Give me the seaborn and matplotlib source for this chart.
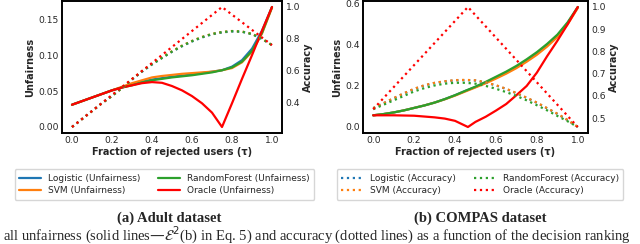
import numpy as np
import pandas as pd
import matplotlib
matplotlib.use("Agg")
import matplotlib.pyplot as plt
from matplotlib.lines import Line2D
import seaborn as sns

# ── data ──────────────────────────────────────────────────
tau = [0.0, 0.05, 0.1, 0.15, 0.2, 0.25, 0.3, 0.35, 0.4, 0.45, 0.5,
       0.55, 0.6, 0.65, 0.7, 0.75, 0.8, 0.85, 0.9, 0.95, 1.0]

models = ["Logistic", "SVM", "RandomForest", "Oracle"]
model_colors = ["#1f77b4", "#ff7f0e", "#2ca02c", "#ff0000"]

# Adult dataset
adult_unf_logistic = [.031, .036, .041, .046, .051, .055, .059, .063, .066, .068, .070,
                      .0715, .073, .075, .077, .079, .084, .093, .109, .134, .167]
adult_unf_svm = [.031, .036, .041, .046, .051, .056, .061, .065, .069, .071, .0725,
                 .074, .075, .076, .077, .079, .082, .090, .105, .130, .166]
adult_unf_rf = [.031, .036, .041, .046, .051, .055, .058, .062, .065, .067, .069,
                .0705, .072, .074, .076, .079, .083, .091, .106, .131, .167]
adult_unf_oracle = [.031, .036, .041, .046, .051, .055, .058, .061, .0625, .0615, .057,
                    .051, .043, .033, .020, .0, .033, .067, .100, .134, .167]

adult_acc_logistic = [.245, .295, .345, .395, .44, .49, .543, .593, .638, .679, .718,
                      .753, .783, .808, .828, .840, .846, .844, .829, .799, .76]
adult_acc_svm = [.245, .295, .345, .395, .44, .49, .546, .597, .642, .682, .722,
                 .757, .787, .812, .831, .843, .849, .846, .831, .801, .76]
adult_acc_rf = [.245, .295, .345, .395, .44, .49, .545, .595, .64, .68, .72,
                .755, .785, .81, .83, .842, .848, .845, .83, .80, .76]
adult_acc_oracle_tau = [0.0, 0.75, 1.0]
adult_acc_oracle = [0.245, 1.0, 0.76]

# COMPAS dataset
compas_unf_logistic = [.057, .063, .071, .081, .093, .105, .119, .136, .155, .176, .195,
                       .217, .241, .265, .293, .324, .359, .399, .445, .506, .583]
compas_unf_svm = [.057, .063, .071, .081, .093, .105, .119, .135, .153, .173, .193,
                  .213, .236, .260, .287, .318, .352, .392, .438, .500, .580]
compas_unf_rf = [.057, .063, .071, .081, .093, .105, .119, .136, .155, .176, .197,
                 .220, .245, .270, .298, .330, .365, .405, .450, .510, .585]
compas_unf_oracle_tau = [0.0, 0.1, 0.2, 0.3, 0.35, 0.4, 0.463, 0.5, 0.55, 0.6,
                         0.65, 0.7, 0.75, 0.8, 0.85, 0.9, 0.95, 1.0]
compas_unf_oracle = [.057, .057, .055, .047, .041, .030, .0, .025, .05, .08,
                     .112, .155, .20, .265, .345, .42, .50, .585]

compas_acc_logistic = [.545, .567, .589, .611, .631, .647, .658, .665, .670, .671, .669,
                       .660, .647, .631, .612, .591, .569, .544, .519, .491, .46]
compas_acc_svm = [.545, .567, .59, .612, .632, .648, .659, .666, .671, .672, .670,
                  .661, .648, .632, .613, .592, .57, .545, .52, .492, .46]
compas_acc_rf = [.54, .56, .58, .60, .62, .635, .647, .655, .659, .659, .655,
                 .645, .632, .617, .600, .58, .558, .535, .51, .486, .46]
compas_acc_oracle_tau = [0.0, 0.463, 1.0]
compas_acc_oracle = [0.54, 1.0, 0.46]

# ── style ─────────────────────────────────────────────────
sns.set_style("white")
plt.rcParams["font.family"] = ["DejaVu Sans"]

W, H = 640, 244
fig = plt.figure(figsize=(6.4, 2.44), dpi=100)


def px_axes(x0, y0, x1, y1):
    return fig.add_axes([x0 / W, 1 - y1 / H, (x1 - x0) / W, (y1 - y0) / H])


def draw_panel(ax, unf, acc, ylim_ticks, acc_ticks):
    ax2 = ax.twinx()
    for (x, y), c in zip(unf, model_colors):
        sns.lineplot(x=x, y=y, ax=ax, color=c, linewidth=1.6, linestyle="-")
    for (x, y), c in zip(acc, model_colors):
        sns.lineplot(x=x, y=y, ax=ax2, color=c, linewidth=1.6, linestyle=":")
    ax.set_xticks([0, 0.2, 0.4, 0.6, 0.8, 1.0])
    ax.set_yticks(ylim_ticks)
    ax2.set_yticks(acc_ticks)
    ax.set_xlabel("Fraction of rejected users (τ)", fontsize=7,
                  fontweight="bold", labelpad=1)
    ax.set_ylabel("Unfairness", fontsize=7, fontweight="bold", labelpad=2)
    ax2.set_ylabel("Accuracy", fontsize=7, fontweight="bold", labelpad=2)
    for a in (ax, ax2):
        a.tick_params(axis="both", labelsize=6.6, pad=2.5, length=0)
        for s in a.spines.values():
            s.set_color("black")
            s.set_linewidth(1.2)
    return ax2


ax_a = px_axes(62, 1, 282, 133)
draw_panel(
    ax_a,
    [(tau, adult_unf_logistic), (tau, adult_unf_svm), (tau, adult_unf_rf),
     (tau, adult_unf_oracle)],
    [(tau, adult_acc_logistic), (tau, adult_acc_svm), (tau, adult_acc_rf),
     (adult_acc_oracle_tau, adult_acc_oracle)],
    [0.0, 0.05, 0.10, 0.15],
    [0.4, 0.6, 0.8, 1.0],
)
ax_a.yaxis.set_major_formatter(matplotlib.ticker.FormatStrFormatter("%.2f"))

ax_b = px_axes(363, 1, 588, 133)
draw_panel(
    ax_b,
    [(tau, compas_unf_logistic), (tau, compas_unf_svm), (tau, compas_unf_rf),
     (compas_unf_oracle_tau, compas_unf_oracle)],
    [(tau, compas_acc_logistic), (tau, compas_acc_svm), (tau, compas_acc_rf),
     (compas_acc_oracle_tau, compas_acc_oracle)],
    [0.0, 0.2, 0.4, 0.6],
    [0.5, 0.6, 0.7, 0.8, 0.9, 1.0],
)

# ── legends ───────────────────────────────────────────────
h_unf = [Line2D([], [], color=c, lw=1.6, ls="-") for c in model_colors]
h_acc = [Line2D([], [], color=c, lw=1.6, ls=":") for c in model_colors]
leg_kw = dict(ncol=2, fontsize=6.5, handlelength=2.4, columnspacing=2.0,
              borderpad=0.5, labelspacing=0.4, frameon=True, loc="center")
fig.legend(h_unf, [f"{m} (Unfairness)" for m in models],
           bbox_to_anchor=(164.5 / W, 1 - 184.5 / H), **leg_kw)
fig.legend(h_acc, [f"{m} (Accuracy)" for m in models],
           bbox_to_anchor=(480 / W, 1 - 184.5 / H), **leg_kw)

# ── captions ──────────────────────────────────────────────
fig.text(169.5 / W, 1 - 218 / H, "(a) Adult dataset", ha="center", va="center",
         fontsize=10.5, fontweight="bold", family="Liberation Serif")
fig.text(480 / W, 1 - 218 / H, "(b) COMPAS dataset", ha="center", va="center",
         fontsize=10.5, fontweight="bold", family="Liberation Serif")
fig.text(3 / W, 1 - 235 / H,
         "all unfairness (solid lines—$\\mathcal{E}^2$(b) in Eq. 5) and accuracy "
         "(dotted lines) as a function of the decision ranking",
         ha="left", va="center", fontsize=10.5, family="Liberation Serif")

fig.savefig("out.png", dpi=100)
